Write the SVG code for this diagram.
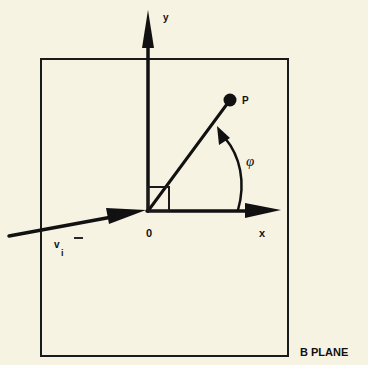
<svg xmlns="http://www.w3.org/2000/svg" width="368" height="365" viewBox="0 0 368 365">
<defs>
<style>
.bg{fill:#f7f3e3}
.frame{fill:none;stroke:#1a1a1a;stroke-width:2}
.ln{stroke:#111;fill:none;stroke-linecap:round}
.ah{fill:#111}
.lbl{font-family:"Liberation Sans",Arial,sans-serif;font-weight:bold;fill:#111}
</style>
</defs>
<rect class="bg" x="0" y="0" width="368" height="365"/>
<g id="plane">
<rect class="frame" x="41" y="59" width="247" height="297"/>
<text class="lbl" x="300" y="356" font-size="11">B PLANE</text>
</g>
<g id="connectors">
<line class="ln" x1="148" y1="211" x2="148" y2="44" stroke-width="3.5"/>
<polygon class="ah" points="148,10 142,48 154,48"/>
<line class="ln" x1="147" y1="211" x2="250" y2="211" stroke-width="3.5"/>
<polygon class="ah" points="281,210 245,203 245,218"/>
<line class="ln" x1="9" y1="236" x2="112" y2="217" stroke-width="3.5"/>
<polygon class="ah" points="146,210 106,208 109,224"/>
<line class="ln" x1="148" y1="211" x2="230" y2="100" stroke-width="3"/>
<rect class="frame" x="148" y="187" width="21" height="24" stroke-width="2.5"/>
<path class="ln" d="M238,210 C246,182 240,156 225,138" stroke-width="2.5"/>
<polygon class="ah" points="217,126 219,145 230,138"/>
</g>
<g id="axisY"><text class="lbl" x="163" y="21" font-size="10">y</text></g>
<g id="axisX"><text class="lbl" x="259" y="237" font-size="11">x</text></g>
<g id="origin"><text class="lbl" x="146" y="237" font-size="11">0</text></g>
<g id="P">
<circle cx="230" cy="100" r="6.5" fill="#111"/>
<text class="lbl" x="242" y="104" font-size="10">P</text>
</g>
<g id="phi"><text x="246" y="166" font-family="'Liberation Serif',serif" font-style="italic" font-size="15" fill="#111">φ</text></g>
<g id="vi">
<text class="lbl" x="54" y="248" font-size="10">v</text>
<text class="lbl" x="61" y="256" font-size="9">i</text>
<line x1="74" y1="238" x2="83" y2="238" stroke="#111" stroke-width="1.8"/>
</g>
</svg>
